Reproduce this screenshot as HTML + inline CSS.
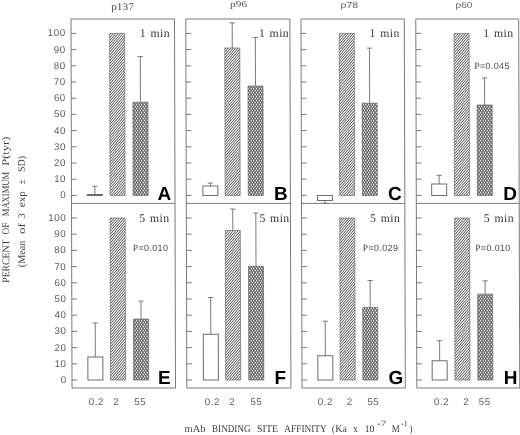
<!DOCTYPE html>
<html><head><meta charset="utf-8"><title>Figure</title>
<style>
html,body{margin:0;padding:0;background:#fff;}
body{width:520px;height:435px;overflow:hidden;}
svg{display:block;}
text{font-family:"Liberation Sans",sans-serif;fill:#666;}
.t{font-size:9.8px;fill:#5c5c5c;letter-spacing:0.5px;}
.ts{font-family:"Liberation Serif",serif;fill:#505050;}
.tt{fill:#606060;}
.m{font-family:"Liberation Serif",serif;font-size:11.8px;fill:#3a3a3a;letter-spacing:0.4px;word-spacing:1px;}
.p{font-size:9px;fill:#4c4c4c;letter-spacing:0.35px;}
.ps{font-family:"Liberation Serif",serif;font-size:9.6px;fill:#444;}
.b{font-family:"Liberation Serif",serif;font-size:10.2px;fill:#3c3c3c;}
.L{font-size:19px;font-weight:bold;fill:#000;}
</style></head><body>
<svg width="520" height="435" viewBox="0 0 520 435">
<defs><pattern id="h1" width="5" height="29" patternUnits="userSpaceOnUse" patternTransform="matrix(1,0,-0.0028,1,0.560,0)"><g shape-rendering="crispEdges"><rect x="0" y="0" width="1" height="1" fill="#ffffff"/><rect x="1" y="0" width="1" height="1" fill="#777777"/><rect x="2" y="0" width="1" height="1" fill="#cecece"/><rect x="3" y="0" width="1" height="1" fill="#cecece"/><rect x="4" y="0" width="1" height="1" fill="#777777"/><rect x="0" y="1" width="1" height="1" fill="#8a8a8a"/><rect x="1" y="1" width="1" height="1" fill="#b3b3b3"/><rect x="2" y="1" width="1" height="1" fill="#e6e6e6"/><rect x="3" y="1" width="1" height="1" fill="#6b6b6b"/><rect x="4" y="1" width="1" height="1" fill="#ffffff"/><rect x="0" y="2" width="1" height="1" fill="#999999"/><rect x="1" y="2" width="1" height="1" fill="#f8f8f8"/><rect x="2" y="2" width="1" height="1" fill="#686868"/><rect x="3" y="2" width="1" height="1" fill="#f2f2f2"/><rect x="4" y="2" width="1" height="1" fill="#a3a3a3"/><rect x="0" y="3" width="1" height="1" fill="#ffffff"/><rect x="1" y="3" width="1" height="1" fill="#6f6f6f"/><rect x="2" y="3" width="1" height="1" fill="#dddddd"/><rect x="3" y="3" width="1" height="1" fill="#bebebe"/><rect x="4" y="3" width="1" height="1" fill="#828282"/><rect x="0" y="4" width="1" height="1" fill="#7d7d7d"/><rect x="1" y="4" width="1" height="1" fill="#c4c4c4"/><rect x="2" y="4" width="1" height="1" fill="#d8d8d8"/><rect x="3" y="4" width="1" height="1" fill="#717171"/><rect x="4" y="4" width="1" height="1" fill="#ffffff"/><rect x="0" y="5" width="1" height="1" fill="#a9a9a9"/><rect x="1" y="5" width="1" height="1" fill="#ededed"/><rect x="2" y="5" width="1" height="1" fill="#696969"/><rect x="3" y="5" width="1" height="1" fill="#fbfbfb"/><rect x="4" y="5" width="1" height="1" fill="#939393"/><rect x="0" y="6" width="1" height="1" fill="#fdfdfd"/><rect x="1" y="6" width="1" height="1" fill="#696969"/><rect x="2" y="6" width="1" height="1" fill="#ebebeb"/><rect x="3" y="6" width="1" height="1" fill="#adadad"/><rect x="4" y="6" width="1" height="1" fill="#909090"/><rect x="0" y="7" width="1" height="1" fill="#737373"/><rect x="1" y="7" width="1" height="1" fill="#d4d4d4"/><rect x="2" y="7" width="1" height="1" fill="#c8c8c8"/><rect x="3" y="7" width="1" height="1" fill="#7b7b7b"/><rect x="4" y="7" width="1" height="1" fill="#ffffff"/><rect x="0" y="8" width="1" height="1" fill="#bababa"/><rect x="1" y="8" width="1" height="1" fill="#e0e0e0"/><rect x="2" y="8" width="1" height="1" fill="#6d6d6d"/><rect x="3" y="8" width="1" height="1" fill="#ffffff"/><rect x="4" y="8" width="1" height="1" fill="#858585"/><rect x="0" y="9" width="1" height="1" fill="#f4f4f4"/><rect x="1" y="9" width="1" height="1" fill="#686868"/><rect x="2" y="9" width="1" height="1" fill="#f6f6f6"/><rect x="3" y="9" width="1" height="1" fill="#9c9c9c"/><rect x="4" y="9" width="1" height="1" fill="#a0a0a0"/><rect x="0" y="10" width="1" height="1" fill="#6c6c6c"/><rect x="1" y="10" width="1" height="1" fill="#e3e3e3"/><rect x="2" y="10" width="1" height="1" fill="#b7b7b7"/><rect x="3" y="10" width="1" height="1" fill="#878787"/><rect x="4" y="10" width="1" height="1" fill="#ffffff"/><rect x="0" y="11" width="1" height="1" fill="#cbcbcb"/><rect x="1" y="11" width="1" height="1" fill="#d1d1d1"/><rect x="2" y="11" width="1" height="1" fill="#757575"/><rect x="3" y="11" width="1" height="1" fill="#ffffff"/><rect x="4" y="11" width="1" height="1" fill="#797979"/><rect x="0" y="12" width="1" height="1" fill="#e8e8e8"/><rect x="1" y="12" width="1" height="1" fill="#6a6a6a"/><rect x="2" y="12" width="1" height="1" fill="#fefefe"/><rect x="3" y="12" width="1" height="1" fill="#8d8d8d"/><rect x="4" y="12" width="1" height="1" fill="#b0b0b0"/><rect x="0" y="13" width="1" height="1" fill="#686868"/><rect x="1" y="13" width="1" height="1" fill="#f0f0f0"/><rect x="2" y="13" width="1" height="1" fill="#a6a6a6"/><rect x="3" y="13" width="1" height="1" fill="#969696"/><rect x="4" y="13" width="1" height="1" fill="#fafafa"/><rect x="0" y="14" width="1" height="1" fill="#dbdbdb"/><rect x="1" y="14" width="1" height="1" fill="#c1c1c1"/><rect x="2" y="14" width="1" height="1" fill="#808080"/><rect x="3" y="14" width="1" height="1" fill="#ffffff"/><rect x="4" y="14" width="1" height="1" fill="#707070"/><rect x="0" y="15" width="1" height="1" fill="#dbdbdb"/><rect x="1" y="15" width="1" height="1" fill="#707070"/><rect x="2" y="15" width="1" height="1" fill="#ffffff"/><rect x="3" y="15" width="1" height="1" fill="#808080"/><rect x="4" y="15" width="1" height="1" fill="#c1c1c1"/><rect x="0" y="16" width="1" height="1" fill="#686868"/><rect x="1" y="16" width="1" height="1" fill="#fafafa"/><rect x="2" y="16" width="1" height="1" fill="#969696"/><rect x="3" y="16" width="1" height="1" fill="#a6a6a6"/><rect x="4" y="16" width="1" height="1" fill="#f0f0f0"/><rect x="0" y="17" width="1" height="1" fill="#e8e8e8"/><rect x="1" y="17" width="1" height="1" fill="#b0b0b0"/><rect x="2" y="17" width="1" height="1" fill="#8d8d8d"/><rect x="3" y="17" width="1" height="1" fill="#fefefe"/><rect x="4" y="17" width="1" height="1" fill="#6a6a6a"/><rect x="0" y="18" width="1" height="1" fill="#cbcbcb"/><rect x="1" y="18" width="1" height="1" fill="#797979"/><rect x="2" y="18" width="1" height="1" fill="#ffffff"/><rect x="3" y="18" width="1" height="1" fill="#757575"/><rect x="4" y="18" width="1" height="1" fill="#d1d1d1"/><rect x="0" y="19" width="1" height="1" fill="#6c6c6c"/><rect x="1" y="19" width="1" height="1" fill="#ffffff"/><rect x="2" y="19" width="1" height="1" fill="#878787"/><rect x="3" y="19" width="1" height="1" fill="#b7b7b7"/><rect x="4" y="19" width="1" height="1" fill="#e3e3e3"/><rect x="0" y="20" width="1" height="1" fill="#f4f4f4"/><rect x="1" y="20" width="1" height="1" fill="#a0a0a0"/><rect x="2" y="20" width="1" height="1" fill="#9c9c9c"/><rect x="3" y="20" width="1" height="1" fill="#f6f6f6"/><rect x="4" y="20" width="1" height="1" fill="#686868"/><rect x="0" y="21" width="1" height="1" fill="#bababa"/><rect x="1" y="21" width="1" height="1" fill="#858585"/><rect x="2" y="21" width="1" height="1" fill="#ffffff"/><rect x="3" y="21" width="1" height="1" fill="#6d6d6d"/><rect x="4" y="21" width="1" height="1" fill="#e0e0e0"/><rect x="0" y="22" width="1" height="1" fill="#737373"/><rect x="1" y="22" width="1" height="1" fill="#ffffff"/><rect x="2" y="22" width="1" height="1" fill="#7b7b7b"/><rect x="3" y="22" width="1" height="1" fill="#c8c8c8"/><rect x="4" y="22" width="1" height="1" fill="#d4d4d4"/><rect x="0" y="23" width="1" height="1" fill="#fdfdfd"/><rect x="1" y="23" width="1" height="1" fill="#909090"/><rect x="2" y="23" width="1" height="1" fill="#adadad"/><rect x="3" y="23" width="1" height="1" fill="#ebebeb"/><rect x="4" y="23" width="1" height="1" fill="#696969"/><rect x="0" y="24" width="1" height="1" fill="#a9a9a9"/><rect x="1" y="24" width="1" height="1" fill="#939393"/><rect x="2" y="24" width="1" height="1" fill="#fbfbfb"/><rect x="3" y="24" width="1" height="1" fill="#696969"/><rect x="4" y="24" width="1" height="1" fill="#ededed"/><rect x="0" y="25" width="1" height="1" fill="#7d7d7d"/><rect x="1" y="25" width="1" height="1" fill="#ffffff"/><rect x="2" y="25" width="1" height="1" fill="#717171"/><rect x="3" y="25" width="1" height="1" fill="#d8d8d8"/><rect x="4" y="25" width="1" height="1" fill="#c4c4c4"/><rect x="0" y="26" width="1" height="1" fill="#ffffff"/><rect x="1" y="26" width="1" height="1" fill="#828282"/><rect x="2" y="26" width="1" height="1" fill="#bebebe"/><rect x="3" y="26" width="1" height="1" fill="#dddddd"/><rect x="4" y="26" width="1" height="1" fill="#6f6f6f"/><rect x="0" y="27" width="1" height="1" fill="#999999"/><rect x="1" y="27" width="1" height="1" fill="#a3a3a3"/><rect x="2" y="27" width="1" height="1" fill="#f2f2f2"/><rect x="3" y="27" width="1" height="1" fill="#686868"/><rect x="4" y="27" width="1" height="1" fill="#f8f8f8"/><rect x="0" y="28" width="1" height="1" fill="#8a8a8a"/><rect x="1" y="28" width="1" height="1" fill="#ffffff"/><rect x="2" y="28" width="1" height="1" fill="#6b6b6b"/><rect x="3" y="28" width="1" height="1" fill="#e6e6e6"/><rect x="4" y="28" width="1" height="1" fill="#b3b3b3"/></g></pattern><pattern id="h2" width="8" height="4" patternUnits="userSpaceOnUse" patternTransform="matrix(1,0,-0.0028,1,0.560,0)"><g shape-rendering="crispEdges"><rect x="0" y="0" width="1" height="1" fill="#ffffff"/><rect x="1" y="0" width="1" height="1" fill="#656565"/><rect x="2" y="0" width="1" height="1" fill="#888888"/><rect x="3" y="0" width="1" height="1" fill="#e2e2e2"/><rect x="4" y="0" width="1" height="1" fill="#565656"/><rect x="5" y="0" width="1" height="1" fill="#e2e2e2"/><rect x="6" y="0" width="1" height="1" fill="#888888"/><rect x="7" y="0" width="1" height="1" fill="#656565"/><rect x="0" y="1" width="1" height="1" fill="#888888"/><rect x="1" y="1" width="1" height="1" fill="#888888"/><rect x="2" y="1" width="1" height="1" fill="#888888"/><rect x="3" y="1" width="1" height="1" fill="#888888"/><rect x="4" y="1" width="1" height="1" fill="#888888"/><rect x="5" y="1" width="1" height="1" fill="#888888"/><rect x="6" y="1" width="1" height="1" fill="#888888"/><rect x="7" y="1" width="1" height="1" fill="#888888"/><rect x="0" y="2" width="1" height="1" fill="#565656"/><rect x="1" y="2" width="1" height="1" fill="#e2e2e2"/><rect x="2" y="2" width="1" height="1" fill="#888888"/><rect x="3" y="2" width="1" height="1" fill="#656565"/><rect x="4" y="2" width="1" height="1" fill="#ffffff"/><rect x="5" y="2" width="1" height="1" fill="#656565"/><rect x="6" y="2" width="1" height="1" fill="#888888"/><rect x="7" y="2" width="1" height="1" fill="#e2e2e2"/><rect x="0" y="3" width="1" height="1" fill="#888888"/><rect x="1" y="3" width="1" height="1" fill="#888888"/><rect x="2" y="3" width="1" height="1" fill="#888888"/><rect x="3" y="3" width="1" height="1" fill="#888888"/><rect x="4" y="3" width="1" height="1" fill="#888888"/><rect x="5" y="3" width="1" height="1" fill="#888888"/><rect x="6" y="3" width="1" height="1" fill="#888888"/><rect x="7" y="3" width="1" height="1" fill="#888888"/></g></pattern></defs>
<rect width="520" height="435" fill="#fff"/>
<g transform="matrix(1,0,0.0028,1,-0.560,0)">
<rect x="71.5" y="19.0" width="103.5" height="369.0" fill="none" stroke="#6c6c6c" stroke-width="0.9"/>
<line x1="71.5" y1="203.4" x2="175.0" y2="203.4" stroke="#6c6c6c" stroke-width="0.9"/>
<line x1="71.5" y1="195.40" x2="76.7" y2="195.40" stroke="#6c6c6c" stroke-width="0.9"/>
<line x1="71.5" y1="179.20" x2="76.7" y2="179.20" stroke="#6c6c6c" stroke-width="0.9"/>
<line x1="71.5" y1="163.00" x2="76.7" y2="163.00" stroke="#6c6c6c" stroke-width="0.9"/>
<line x1="71.5" y1="146.80" x2="76.7" y2="146.80" stroke="#6c6c6c" stroke-width="0.9"/>
<line x1="71.5" y1="130.60" x2="76.7" y2="130.60" stroke="#6c6c6c" stroke-width="0.9"/>
<line x1="71.5" y1="114.40" x2="76.7" y2="114.40" stroke="#6c6c6c" stroke-width="0.9"/>
<line x1="71.5" y1="98.20" x2="76.7" y2="98.20" stroke="#6c6c6c" stroke-width="0.9"/>
<line x1="71.5" y1="82.00" x2="76.7" y2="82.00" stroke="#6c6c6c" stroke-width="0.9"/>
<line x1="71.5" y1="65.80" x2="76.7" y2="65.80" stroke="#6c6c6c" stroke-width="0.9"/>
<line x1="71.5" y1="49.60" x2="76.7" y2="49.60" stroke="#6c6c6c" stroke-width="0.9"/>
<line x1="71.5" y1="33.40" x2="76.7" y2="33.40" stroke="#6c6c6c" stroke-width="0.9"/>
<line x1="71.5" y1="380.00" x2="76.7" y2="380.00" stroke="#6c6c6c" stroke-width="0.9"/>
<line x1="71.5" y1="363.80" x2="76.7" y2="363.80" stroke="#6c6c6c" stroke-width="0.9"/>
<line x1="71.5" y1="347.60" x2="76.7" y2="347.60" stroke="#6c6c6c" stroke-width="0.9"/>
<line x1="71.5" y1="331.40" x2="76.7" y2="331.40" stroke="#6c6c6c" stroke-width="0.9"/>
<line x1="71.5" y1="315.20" x2="76.7" y2="315.20" stroke="#6c6c6c" stroke-width="0.9"/>
<line x1="71.5" y1="299.00" x2="76.7" y2="299.00" stroke="#6c6c6c" stroke-width="0.9"/>
<line x1="71.5" y1="282.80" x2="76.7" y2="282.80" stroke="#6c6c6c" stroke-width="0.9"/>
<line x1="71.5" y1="266.60" x2="76.7" y2="266.60" stroke="#6c6c6c" stroke-width="0.9"/>
<line x1="71.5" y1="250.40" x2="76.7" y2="250.40" stroke="#6c6c6c" stroke-width="0.9"/>
<line x1="71.5" y1="234.20" x2="76.7" y2="234.20" stroke="#6c6c6c" stroke-width="0.9"/>
<line x1="71.5" y1="218.00" x2="76.7" y2="218.00" stroke="#6c6c6c" stroke-width="0.9"/>
<rect x="186.3" y="19.0" width="104.1" height="369.0" fill="none" stroke="#6c6c6c" stroke-width="0.9"/>
<line x1="186.3" y1="203.4" x2="290.4" y2="203.4" stroke="#6c6c6c" stroke-width="0.9"/>
<line x1="186.3" y1="195.40" x2="191.5" y2="195.40" stroke="#6c6c6c" stroke-width="0.9"/>
<line x1="186.3" y1="179.20" x2="191.5" y2="179.20" stroke="#6c6c6c" stroke-width="0.9"/>
<line x1="186.3" y1="163.00" x2="191.5" y2="163.00" stroke="#6c6c6c" stroke-width="0.9"/>
<line x1="186.3" y1="146.80" x2="191.5" y2="146.80" stroke="#6c6c6c" stroke-width="0.9"/>
<line x1="186.3" y1="130.60" x2="191.5" y2="130.60" stroke="#6c6c6c" stroke-width="0.9"/>
<line x1="186.3" y1="114.40" x2="191.5" y2="114.40" stroke="#6c6c6c" stroke-width="0.9"/>
<line x1="186.3" y1="98.20" x2="191.5" y2="98.20" stroke="#6c6c6c" stroke-width="0.9"/>
<line x1="186.3" y1="82.00" x2="191.5" y2="82.00" stroke="#6c6c6c" stroke-width="0.9"/>
<line x1="186.3" y1="65.80" x2="191.5" y2="65.80" stroke="#6c6c6c" stroke-width="0.9"/>
<line x1="186.3" y1="49.60" x2="191.5" y2="49.60" stroke="#6c6c6c" stroke-width="0.9"/>
<line x1="186.3" y1="33.40" x2="191.5" y2="33.40" stroke="#6c6c6c" stroke-width="0.9"/>
<line x1="186.3" y1="380.00" x2="191.5" y2="380.00" stroke="#6c6c6c" stroke-width="0.9"/>
<line x1="186.3" y1="363.80" x2="191.5" y2="363.80" stroke="#6c6c6c" stroke-width="0.9"/>
<line x1="186.3" y1="347.60" x2="191.5" y2="347.60" stroke="#6c6c6c" stroke-width="0.9"/>
<line x1="186.3" y1="331.40" x2="191.5" y2="331.40" stroke="#6c6c6c" stroke-width="0.9"/>
<line x1="186.3" y1="315.20" x2="191.5" y2="315.20" stroke="#6c6c6c" stroke-width="0.9"/>
<line x1="186.3" y1="299.00" x2="191.5" y2="299.00" stroke="#6c6c6c" stroke-width="0.9"/>
<line x1="186.3" y1="282.80" x2="191.5" y2="282.80" stroke="#6c6c6c" stroke-width="0.9"/>
<line x1="186.3" y1="266.60" x2="191.5" y2="266.60" stroke="#6c6c6c" stroke-width="0.9"/>
<line x1="186.3" y1="250.40" x2="191.5" y2="250.40" stroke="#6c6c6c" stroke-width="0.9"/>
<line x1="186.3" y1="234.20" x2="191.5" y2="234.20" stroke="#6c6c6c" stroke-width="0.9"/>
<line x1="186.3" y1="218.00" x2="191.5" y2="218.00" stroke="#6c6c6c" stroke-width="0.9"/>
<rect x="301.5" y="19.0" width="103.3" height="369.0" fill="none" stroke="#6c6c6c" stroke-width="0.9"/>
<line x1="301.5" y1="203.4" x2="404.8" y2="203.4" stroke="#6c6c6c" stroke-width="0.9"/>
<line x1="301.5" y1="195.40" x2="306.7" y2="195.40" stroke="#6c6c6c" stroke-width="0.9"/>
<line x1="301.5" y1="179.20" x2="306.7" y2="179.20" stroke="#6c6c6c" stroke-width="0.9"/>
<line x1="301.5" y1="163.00" x2="306.7" y2="163.00" stroke="#6c6c6c" stroke-width="0.9"/>
<line x1="301.5" y1="146.80" x2="306.7" y2="146.80" stroke="#6c6c6c" stroke-width="0.9"/>
<line x1="301.5" y1="130.60" x2="306.7" y2="130.60" stroke="#6c6c6c" stroke-width="0.9"/>
<line x1="301.5" y1="114.40" x2="306.7" y2="114.40" stroke="#6c6c6c" stroke-width="0.9"/>
<line x1="301.5" y1="98.20" x2="306.7" y2="98.20" stroke="#6c6c6c" stroke-width="0.9"/>
<line x1="301.5" y1="82.00" x2="306.7" y2="82.00" stroke="#6c6c6c" stroke-width="0.9"/>
<line x1="301.5" y1="65.80" x2="306.7" y2="65.80" stroke="#6c6c6c" stroke-width="0.9"/>
<line x1="301.5" y1="49.60" x2="306.7" y2="49.60" stroke="#6c6c6c" stroke-width="0.9"/>
<line x1="301.5" y1="33.40" x2="306.7" y2="33.40" stroke="#6c6c6c" stroke-width="0.9"/>
<line x1="301.5" y1="380.00" x2="306.7" y2="380.00" stroke="#6c6c6c" stroke-width="0.9"/>
<line x1="301.5" y1="363.80" x2="306.7" y2="363.80" stroke="#6c6c6c" stroke-width="0.9"/>
<line x1="301.5" y1="347.60" x2="306.7" y2="347.60" stroke="#6c6c6c" stroke-width="0.9"/>
<line x1="301.5" y1="331.40" x2="306.7" y2="331.40" stroke="#6c6c6c" stroke-width="0.9"/>
<line x1="301.5" y1="315.20" x2="306.7" y2="315.20" stroke="#6c6c6c" stroke-width="0.9"/>
<line x1="301.5" y1="299.00" x2="306.7" y2="299.00" stroke="#6c6c6c" stroke-width="0.9"/>
<line x1="301.5" y1="282.80" x2="306.7" y2="282.80" stroke="#6c6c6c" stroke-width="0.9"/>
<line x1="301.5" y1="266.60" x2="306.7" y2="266.60" stroke="#6c6c6c" stroke-width="0.9"/>
<line x1="301.5" y1="250.40" x2="306.7" y2="250.40" stroke="#6c6c6c" stroke-width="0.9"/>
<line x1="301.5" y1="234.20" x2="306.7" y2="234.20" stroke="#6c6c6c" stroke-width="0.9"/>
<line x1="301.5" y1="218.00" x2="306.7" y2="218.00" stroke="#6c6c6c" stroke-width="0.9"/>
<rect x="416.3" y="19.0" width="102.9" height="369.0" fill="none" stroke="#6c6c6c" stroke-width="0.9"/>
<line x1="416.3" y1="203.4" x2="519.2" y2="203.4" stroke="#6c6c6c" stroke-width="0.9"/>
<line x1="416.3" y1="195.40" x2="421.5" y2="195.40" stroke="#6c6c6c" stroke-width="0.9"/>
<line x1="416.3" y1="179.20" x2="421.5" y2="179.20" stroke="#6c6c6c" stroke-width="0.9"/>
<line x1="416.3" y1="163.00" x2="421.5" y2="163.00" stroke="#6c6c6c" stroke-width="0.9"/>
<line x1="416.3" y1="146.80" x2="421.5" y2="146.80" stroke="#6c6c6c" stroke-width="0.9"/>
<line x1="416.3" y1="130.60" x2="421.5" y2="130.60" stroke="#6c6c6c" stroke-width="0.9"/>
<line x1="416.3" y1="114.40" x2="421.5" y2="114.40" stroke="#6c6c6c" stroke-width="0.9"/>
<line x1="416.3" y1="98.20" x2="421.5" y2="98.20" stroke="#6c6c6c" stroke-width="0.9"/>
<line x1="416.3" y1="82.00" x2="421.5" y2="82.00" stroke="#6c6c6c" stroke-width="0.9"/>
<line x1="416.3" y1="65.80" x2="421.5" y2="65.80" stroke="#6c6c6c" stroke-width="0.9"/>
<line x1="416.3" y1="49.60" x2="421.5" y2="49.60" stroke="#6c6c6c" stroke-width="0.9"/>
<line x1="416.3" y1="33.40" x2="421.5" y2="33.40" stroke="#6c6c6c" stroke-width="0.9"/>
<line x1="416.3" y1="380.00" x2="421.5" y2="380.00" stroke="#6c6c6c" stroke-width="0.9"/>
<line x1="416.3" y1="363.80" x2="421.5" y2="363.80" stroke="#6c6c6c" stroke-width="0.9"/>
<line x1="416.3" y1="347.60" x2="421.5" y2="347.60" stroke="#6c6c6c" stroke-width="0.9"/>
<line x1="416.3" y1="331.40" x2="421.5" y2="331.40" stroke="#6c6c6c" stroke-width="0.9"/>
<line x1="416.3" y1="315.20" x2="421.5" y2="315.20" stroke="#6c6c6c" stroke-width="0.9"/>
<line x1="416.3" y1="299.00" x2="421.5" y2="299.00" stroke="#6c6c6c" stroke-width="0.9"/>
<line x1="416.3" y1="282.80" x2="421.5" y2="282.80" stroke="#6c6c6c" stroke-width="0.9"/>
<line x1="416.3" y1="266.60" x2="421.5" y2="266.60" stroke="#6c6c6c" stroke-width="0.9"/>
<line x1="416.3" y1="250.40" x2="421.5" y2="250.40" stroke="#6c6c6c" stroke-width="0.9"/>
<line x1="416.3" y1="234.20" x2="421.5" y2="234.20" stroke="#6c6c6c" stroke-width="0.9"/>
<line x1="416.3" y1="218.00" x2="421.5" y2="218.00" stroke="#6c6c6c" stroke-width="0.9"/>
<line x1="94.9" y1="194.43" x2="94.9" y2="186.17" stroke="#6c6c6c" stroke-width="0.9"/>
<line x1="92.3" y1="186.17" x2="97.5" y2="186.17" stroke="#6c6c6c" stroke-width="0.9"/>
<rect x="87.4" y="194.43" width="15.0" height="0.97" fill="#fff" stroke="#6c6c6c" stroke-width="1"/>
<rect x="110.1" y="33.40" width="15.0" height="162.00" fill="url(#h1)" stroke="#6a6a6a" stroke-width="0.7"/>
<line x1="140.7" y1="102.25" x2="140.7" y2="56.57" stroke="#6c6c6c" stroke-width="0.9"/>
<line x1="138.1" y1="56.57" x2="143.3" y2="56.57" stroke="#6c6c6c" stroke-width="0.9"/>
<rect x="133.2" y="102.25" width="15.0" height="93.15" fill="url(#h2)" stroke="#606060" stroke-width="0.7"/>
<text x="157.6" y="199.9" class="L">A</text>
<line x1="210.4" y1="186.00" x2="210.4" y2="183.09" stroke="#6c6c6c" stroke-width="0.9"/>
<line x1="207.8" y1="183.09" x2="213.0" y2="183.09" stroke="#6c6c6c" stroke-width="0.9"/>
<rect x="202.9" y="186.00" width="15.0" height="9.40" fill="#fff" stroke="#6c6c6c" stroke-width="1"/>
<line x1="232.7" y1="47.98" x2="232.7" y2="22.87" stroke="#6c6c6c" stroke-width="0.9"/>
<line x1="230.1" y1="22.87" x2="235.3" y2="22.87" stroke="#6c6c6c" stroke-width="0.9"/>
<rect x="225.2" y="47.98" width="15.0" height="147.42" fill="url(#h1)" stroke="#6a6a6a" stroke-width="0.7"/>
<line x1="255.8" y1="86.05" x2="255.8" y2="37.45" stroke="#6c6c6c" stroke-width="0.9"/>
<line x1="253.2" y1="37.45" x2="258.4" y2="37.45" stroke="#6c6c6c" stroke-width="0.9"/>
<rect x="248.3" y="86.05" width="15.0" height="109.35" fill="url(#h2)" stroke="#606060" stroke-width="0.7"/>
<text x="273.9" y="199.9" class="L">B</text>
<line x1="324.9" y1="200.42" x2="324.9" y2="203.34" stroke="#6c6c6c" stroke-width="0.9"/>
<line x1="322.3" y1="203.34" x2="327.5" y2="203.34" stroke="#6c6c6c" stroke-width="0.9"/>
<rect x="317.4" y="195.40" width="15.0" height="5.02" fill="#fff" stroke="#6c6c6c" stroke-width="1"/>
<rect x="339.7" y="33.40" width="15.0" height="162.00" fill="url(#h1)" stroke="#6a6a6a" stroke-width="0.7"/>
<line x1="369.9" y1="103.22" x2="369.9" y2="48.14" stroke="#6c6c6c" stroke-width="0.9"/>
<line x1="367.3" y1="48.14" x2="372.5" y2="48.14" stroke="#6c6c6c" stroke-width="0.9"/>
<rect x="362.4" y="103.22" width="15.0" height="92.18" fill="url(#h2)" stroke="#606060" stroke-width="0.7"/>
<text x="388.0" y="199.9" class="L">C</text>
<line x1="439.2" y1="184.06" x2="439.2" y2="175.31" stroke="#6c6c6c" stroke-width="0.9"/>
<line x1="436.6" y1="175.31" x2="441.8" y2="175.31" stroke="#6c6c6c" stroke-width="0.9"/>
<rect x="431.7" y="184.06" width="15.0" height="11.34" fill="#fff" stroke="#6c6c6c" stroke-width="1"/>
<rect x="454.5" y="33.40" width="15.0" height="162.00" fill="url(#h1)" stroke="#6a6a6a" stroke-width="0.7"/>
<line x1="484.9" y1="105.00" x2="484.9" y2="77.95" stroke="#6c6c6c" stroke-width="0.9"/>
<line x1="482.3" y1="77.95" x2="487.5" y2="77.95" stroke="#6c6c6c" stroke-width="0.9"/>
<rect x="477.4" y="105.00" width="15.0" height="90.40" fill="url(#h2)" stroke="#606060" stroke-width="0.7"/>
<text x="503.2" y="199.9" class="L">D</text>
<line x1="94.9" y1="357.00" x2="94.9" y2="322.98" stroke="#6c6c6c" stroke-width="0.9"/>
<line x1="92.3" y1="322.98" x2="97.5" y2="322.98" stroke="#6c6c6c" stroke-width="0.9"/>
<rect x="87.4" y="357.00" width="15.0" height="23.00" fill="#fff" stroke="#6c6c6c" stroke-width="1"/>
<rect x="110.1" y="218.00" width="15.0" height="162.00" fill="url(#h1)" stroke="#6a6a6a" stroke-width="0.7"/>
<line x1="140.7" y1="319.09" x2="140.7" y2="301.11" stroke="#6c6c6c" stroke-width="0.9"/>
<line x1="138.1" y1="301.11" x2="143.3" y2="301.11" stroke="#6c6c6c" stroke-width="0.9"/>
<rect x="133.2" y="319.09" width="15.0" height="60.91" fill="url(#h2)" stroke="#606060" stroke-width="0.7"/>
<text x="157.6" y="384.5" class="L">E</text>
<line x1="210.4" y1="334.32" x2="210.4" y2="297.54" stroke="#6c6c6c" stroke-width="0.9"/>
<line x1="207.8" y1="297.54" x2="213.0" y2="297.54" stroke="#6c6c6c" stroke-width="0.9"/>
<rect x="202.9" y="334.32" width="15.0" height="45.68" fill="#fff" stroke="#6c6c6c" stroke-width="1"/>
<line x1="232.7" y1="230.47" x2="232.7" y2="209.09" stroke="#6c6c6c" stroke-width="0.9"/>
<line x1="230.1" y1="209.09" x2="235.3" y2="209.09" stroke="#6c6c6c" stroke-width="0.9"/>
<rect x="225.2" y="230.47" width="15.0" height="149.53" fill="url(#h1)" stroke="#6a6a6a" stroke-width="0.7"/>
<line x1="255.8" y1="266.28" x2="255.8" y2="213.14" stroke="#6c6c6c" stroke-width="0.9"/>
<line x1="253.2" y1="213.14" x2="258.4" y2="213.14" stroke="#6c6c6c" stroke-width="0.9"/>
<rect x="248.3" y="266.28" width="15.0" height="113.72" fill="url(#h2)" stroke="#606060" stroke-width="0.7"/>
<text x="273.9" y="384.5" class="L">F</text>
<line x1="324.9" y1="355.86" x2="324.9" y2="321.19" stroke="#6c6c6c" stroke-width="0.9"/>
<line x1="322.3" y1="321.19" x2="327.5" y2="321.19" stroke="#6c6c6c" stroke-width="0.9"/>
<rect x="317.4" y="355.86" width="15.0" height="24.14" fill="#fff" stroke="#6c6c6c" stroke-width="1"/>
<rect x="339.7" y="218.00" width="15.0" height="162.00" fill="url(#h1)" stroke="#6a6a6a" stroke-width="0.7"/>
<line x1="369.9" y1="307.59" x2="369.9" y2="280.53" stroke="#6c6c6c" stroke-width="0.9"/>
<line x1="367.3" y1="280.53" x2="372.5" y2="280.53" stroke="#6c6c6c" stroke-width="0.9"/>
<rect x="362.4" y="307.59" width="15.0" height="72.41" fill="url(#h2)" stroke="#606060" stroke-width="0.7"/>
<text x="388.0" y="384.5" class="L">G</text>
<line x1="439.2" y1="360.72" x2="439.2" y2="340.63" stroke="#6c6c6c" stroke-width="0.9"/>
<line x1="436.6" y1="340.63" x2="441.8" y2="340.63" stroke="#6c6c6c" stroke-width="0.9"/>
<rect x="431.7" y="360.72" width="15.0" height="19.28" fill="#fff" stroke="#6c6c6c" stroke-width="1"/>
<rect x="454.5" y="218.00" width="15.0" height="162.00" fill="url(#h1)" stroke="#6a6a6a" stroke-width="0.7"/>
<line x1="484.9" y1="294.14" x2="484.9" y2="280.86" stroke="#6c6c6c" stroke-width="0.9"/>
<line x1="482.3" y1="280.86" x2="487.5" y2="280.86" stroke="#6c6c6c" stroke-width="0.9"/>
<rect x="477.4" y="294.14" width="15.0" height="85.86" fill="url(#h2)" stroke="#606060" stroke-width="0.7"/>
<text x="503.2" y="384.5" class="L">H</text>
<text x="66.1" y="198.4" text-anchor="end" class="t">0</text>
<text x="66.1" y="182.2" text-anchor="end" class="t">10</text>
<text x="66.1" y="166.0" text-anchor="end" class="t">20</text>
<text x="66.1" y="149.8" text-anchor="end" class="t">30</text>
<text x="66.1" y="133.6" text-anchor="end" class="t">40</text>
<text x="66.1" y="117.4" text-anchor="end" class="t">50</text>
<text x="66.1" y="101.2" text-anchor="end" class="t">60</text>
<text x="66.1" y="85.0" text-anchor="end" class="t">70</text>
<text x="66.1" y="68.8" text-anchor="end" class="t">80</text>
<text x="66.1" y="52.6" text-anchor="end" class="t">90</text>
<text x="66.1" y="36.4" text-anchor="end" class="t">100</text>
<text x="66.1" y="383.0" text-anchor="end" class="t">0</text>
<text x="66.1" y="366.8" text-anchor="end" class="t">10</text>
<text x="66.1" y="350.6" text-anchor="end" class="t">20</text>
<text x="66.1" y="334.4" text-anchor="end" class="t">30</text>
<text x="66.1" y="318.2" text-anchor="end" class="t">40</text>
<text x="66.1" y="302.0" text-anchor="end" class="t">50</text>
<text x="66.1" y="285.8" text-anchor="end" class="t">60</text>
<text x="66.1" y="269.6" text-anchor="end" class="t">70</text>
<text x="66.1" y="253.4" text-anchor="end" class="t">80</text>
<text x="66.1" y="237.2" text-anchor="end" class="t">90</text>
<text x="66.1" y="221.0" text-anchor="end" class="t">100</text>
<text x="95.8" y="404.9" text-anchor="middle" class="t">0.2</text>
<text x="115.8" y="404.9" text-anchor="middle" class="t">2</text>
<text x="139.7" y="404.9" text-anchor="middle" class="t">55</text>
<text x="211.8" y="404.9" text-anchor="middle" class="t">0.2</text>
<text x="231.6" y="404.9" text-anchor="middle" class="t">2</text>
<text x="255.8" y="404.9" text-anchor="middle" class="t">55</text>
<text x="324.8" y="404.9" text-anchor="middle" class="t">0.2</text>
<text x="349.2" y="404.9" text-anchor="middle" class="t">2</text>
<text x="372.8" y="404.9" text-anchor="middle" class="t">55</text>
<text x="441.1" y="404.9" text-anchor="middle" class="t">0.2</text>
<text x="465.6" y="404.9" text-anchor="middle" class="t">2</text>
<text x="484.2" y="404.9" text-anchor="middle" class="t">55</text>
<text x="111.7" y="9.8" class="ts" style="font-size:10.2px" textLength="22.8" lengthAdjust="spacingAndGlyphs">p137</text>
<text x="230.6" y="7.3" class="ts" style="font-size:9.0px" textLength="17.0" lengthAdjust="spacingAndGlyphs">p96</text>
<text x="341.1" y="7.5" class="tt" style="font-size:8.6px" textLength="17.7" lengthAdjust="spacingAndGlyphs">p78</text>
<text x="456.1" y="7.6" class="tt" style="font-size:8.6px" textLength="16.9" lengthAdjust="spacingAndGlyphs">p60</text>
<text x="170.5" y="36.7" text-anchor="end" class="m">1 min</text>
<text x="289.6" y="36.7" text-anchor="end" class="m">1 min</text>
<text x="400.2" y="36.7" text-anchor="end" class="m">1 min</text>
<text x="514" y="36.7" text-anchor="end" class="m">1 min</text>
<text x="169.5" y="221.6" text-anchor="end" class="m">5 min</text>
<text x="289.6" y="221.6" text-anchor="end" class="m">5 min</text>
<text x="400.2" y="221.6" text-anchor="end" class="m">5 min</text>
<text x="514" y="221.6" text-anchor="end" class="m">5 min</text>
<text x="132.6" y="250.6" class="p"><tspan class="ps">P</tspan>=0.010</text>
<text x="362.6" y="250.6" class="p"><tspan class="ps">P</tspan>=0.029</text>
<text x="475" y="250.6" class="p"><tspan class="ps">P</tspan>=0.010</text>
<text x="474.6" y="69.0" class="p"><tspan class="ps">P</tspan>=0.045</text>
<text x="183.90" y="432" class="b" textLength="20.90" lengthAdjust="spacingAndGlyphs">mAb</text>
<text x="211.40" y="432" class="b" textLength="38.50" lengthAdjust="spacingAndGlyphs">BINDING</text>
<text x="256.40" y="432" class="b" textLength="21.00" lengthAdjust="spacingAndGlyphs">SITE</text>
<text x="283.60" y="432" class="b" textLength="42.60" lengthAdjust="spacingAndGlyphs">AFFINITY</text>
<text x="331.20" y="432" class="b" textLength="15.00" lengthAdjust="spacingAndGlyphs">(Ka</text>
<text x="352.60" y="432" class="b" textLength="4.60" lengthAdjust="spacingAndGlyphs">x</text>
<text x="364.00" y="432" class="b" textLength="9.60" lengthAdjust="spacingAndGlyphs">10</text>
<text x="391.00" y="432" class="b" textLength="8.00" lengthAdjust="spacingAndGlyphs">M</text>
<text x="408.90" y="432" class="b" textLength="3.00" lengthAdjust="spacingAndGlyphs">)</text>
<text x="376.40" y="426.0" class="b" textLength="9.20" lengthAdjust="spacingAndGlyphs" style="font-size:8px">-7</text>
<text x="400.60" y="426.0" class="b" textLength="6.60" lengthAdjust="spacingAndGlyphs" style="font-size:8px">-1</text>
<text transform="translate(9.0,282.70) rotate(-90)" class="b" textLength="43.10" lengthAdjust="spacingAndGlyphs">PERCENT</text>
<text transform="translate(9.0,234.50) rotate(-90)" class="b" textLength="11.90" lengthAdjust="spacingAndGlyphs">OF</text>
<text transform="translate(9.0,216.20) rotate(-90)" class="b" textLength="44.30" lengthAdjust="spacingAndGlyphs">MAXIMUM</text>
<text transform="translate(9.0,165.70) rotate(-90)" class="b" textLength="29.00" lengthAdjust="spacingAndGlyphs">P(tyr)</text>
<text transform="translate(24.9,267.20) rotate(-90)" class="b" textLength="26.50" lengthAdjust="spacingAndGlyphs">(Mean</text>
<text transform="translate(24.9,234.00) rotate(-90)" class="b" textLength="10.90" lengthAdjust="spacingAndGlyphs">of</text>
<text transform="translate(24.9,218.40) rotate(-90)" class="b" textLength="5.10" lengthAdjust="spacingAndGlyphs">3</text>
<text transform="translate(24.9,207.20) rotate(-90)" class="b" textLength="16.00" lengthAdjust="spacingAndGlyphs">exp</text>
<text transform="translate(24.9,184.50) rotate(-90)" class="b" textLength="5.20" lengthAdjust="spacingAndGlyphs">±</text>
<text transform="translate(24.9,172.00) rotate(-90)" class="b" textLength="16.10" lengthAdjust="spacingAndGlyphs">SD)</text>
</g>
</svg>
</body></html>
